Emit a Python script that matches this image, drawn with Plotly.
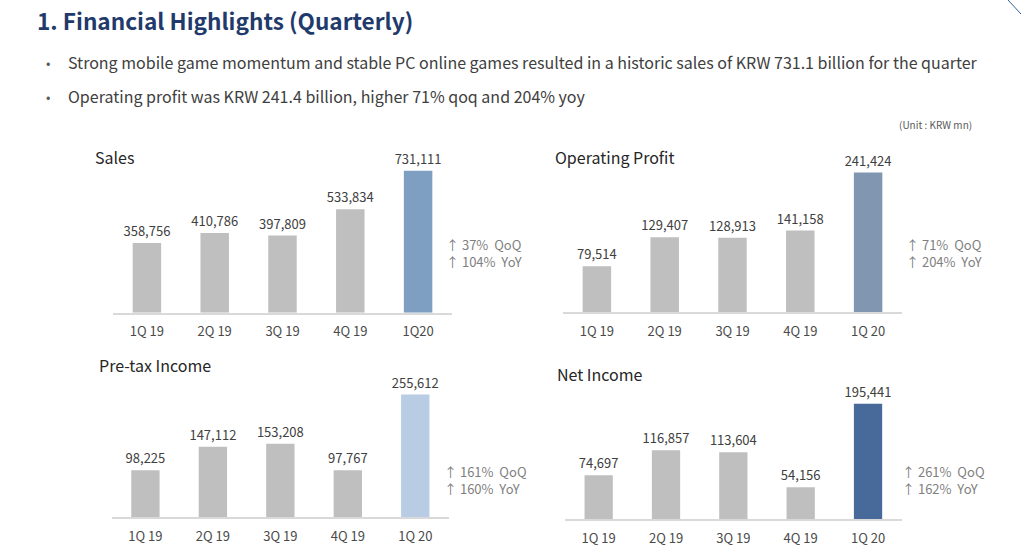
import plotly.graph_objects as go

# ---------------- data ----------------
quarters_a = ["1Q 19", "2Q 19", "3Q 19", "4Q 19", "1Q20"]
quarters_b = ["1Q 19", "2Q 19", "3Q 19", "4Q 19", "1Q 20"]

sales = [358756, 410786, 397809, 533834, 731111]
operating_profit = [79514, 129407, 128913, 141158, 241424]
pretax_income = [98225, 147112, 153208, 97767, 255612]
net_income = [74697, 116857, 113604, 54156, 195441]

panel_titles = ["Sales", "Operating Profit", "Pre-tax Income", "Net Income"]
growth_notes = [
    ("37%", "104%"),
    ("71%", "204%"),
    ("161%", "160%"),
    ("261%", "162%"),
]
highlight_colors = ["#7f9fc2", "#8197b1", "#b8cce4", "#476a9a"]
GRAY = "#bfbfbf"

W, H = 1024, 558
FONT = "Noto Sans CJK KR"

def px_x(p):
    return p / W

def px_y(p):
    return 1 - p / H

# panel geometry in pixels: (x0, x1, ytop, ybase, yrange_max)
panels = [
    (113, 452, 150, 312.7, 838700),
    (563, 902, 150, 312.3, 280300),
    (111.7, 449, 360, 517.3, 327700),
    (565, 901.7, 360, 519.3, 269500),
]
series = [sales, operating_profit, pretax_income, net_income]
cats = [quarters_a, quarters_b, quarters_b, quarters_b]

fig = go.Figure()
layout_axes = {}
for i, (vals, cat, (x0, x1, yt, yb, ymax)) in enumerate(zip(series, cats, panels)):
    n = i + 1
    xa = "x" if n == 1 else f"x{n}"
    ya = "y" if n == 1 else f"y{n}"
    colors = [GRAY] * (len(vals) - 1) + [highlight_colors[i]]
    fig.add_trace(go.Bar(
        x=cat, y=vals, xaxis=xa, yaxis=ya,
        marker=dict(color=colors, line=dict(width=0)),
        width=0.42,
        text=[f"{v:,}" for v in vals],
        textposition="outside",
        constraintext="none",
        textfont=dict(family=FONT, size=13, color="#404040"),
        cliponaxis=False,
        showlegend=False,
        hoverinfo="skip",
    ))
    layout_axes[f"xaxis{'' if n == 1 else n}"] = dict(
        domain=[px_x(x0), px_x(x1)],
        anchor=ya,
        type="category",
        range=[-0.5, 4.5],
        showline=True, linecolor="#d9d9d9", linewidth=1.5,
        showgrid=False, zeroline=False, ticks="",
        ticklabelstandoff=6,
        tickfont=dict(family=FONT, size=13, color="#4a4a4a"),
        fixedrange=True,
    )
    layout_axes[f"yaxis{'' if n == 1 else n}"] = dict(
        domain=[px_y(yb), px_y(yt)],
        anchor=xa,
        range=[0, ymax],
        visible=False,
        fixedrange=True,
    )

fig.update_layout(**layout_axes)

annotations = []
# page title
annotations.append(dict(
    text="<b>1. Financial Highlights (Quarterly)</b>",
    x=px_x(35), y=px_y(20), xref="paper", yref="paper",
    xanchor="left", yanchor="middle", showarrow=False,
    font=dict(family=FONT, size=22.6, color="#1f3a6b"),
))
bullets = [
    "Strong mobile game momentum and stable PC online games resulted in a historic sales of KRW 731.1 billion for the quarter",
    "Operating profit was KRW 241.4 billion, higher 71% qoq and 204% yoy",
]
for k, (b, yy) in enumerate(zip(bullets, [62, 96])):
    annotations.append(dict(
        text="•", x=px_x(48), y=px_y(yy), xref="paper", yref="paper",
        xanchor="center", yanchor="middle", showarrow=False,
        font=dict(family=FONT, size=13, color="#595959"),
    ))
    annotations.append(dict(
        text=b, x=px_x(66), y=px_y(yy), xref="paper", yref="paper",
        xanchor="left", yanchor="middle", showarrow=False,
        font=dict(family=FONT, size=16, color="#404040"),
    ))
annotations.append(dict(
    text="(Unit : KRW mn)", x=px_x(974), y=px_y(125), xref="paper", yref="paper",
    xanchor="right", yanchor="middle", showarrow=False,
    font=dict(family=FONT, size=10, color="#595959"),
))

# panel titles
title_pos = [(93, 157), (553, 157), (97, 365), (555, 374)]
for t, (tx, ty) in zip(panel_titles, title_pos):
    annotations.append(dict(
        text=t, x=px_x(tx), y=px_y(ty), xref="paper", yref="paper",
        xanchor="left", yanchor="middle", showarrow=False,
        font=dict(family=FONT, size=16, color="#262626"),
    ))

# growth notes (two separate lines)
note_pos = [(444, 244), (904, 244), (442, 471), (900, 471)]
for (q, y_), (nx, ny) in zip(growth_notes, note_pos):
    for line_txt, dy in ((f"↑ {q}\u00a0\u00a0QoQ", 0), (f"↑ {y_}\u00a0\u00a0YoY", 17)):
        annotations.append(dict(
            text=line_txt,
            x=px_x(nx), y=px_y(ny + dy), xref="paper", yref="paper",
            xanchor="left", yanchor="middle", align="left", showarrow=False,
            font=dict(family=FONT, size=13, color="#7f7f7f"),
        ))

fig.update_layout(
    width=W, height=H,
    margin=dict(l=0, r=0, t=0, b=0),
    paper_bgcolor="white", plot_bgcolor="white",
    annotations=annotations,
    shapes=[dict(type="line", xref="paper", yref="paper",
                 x0=px_x(1008), y0=px_y(0), x1=px_x(1021), y1=px_y(14),
                 line=dict(color="#2e5f9e", width=1))],
)

fig.write_html("out.html", config={"displayModeBar": False})
